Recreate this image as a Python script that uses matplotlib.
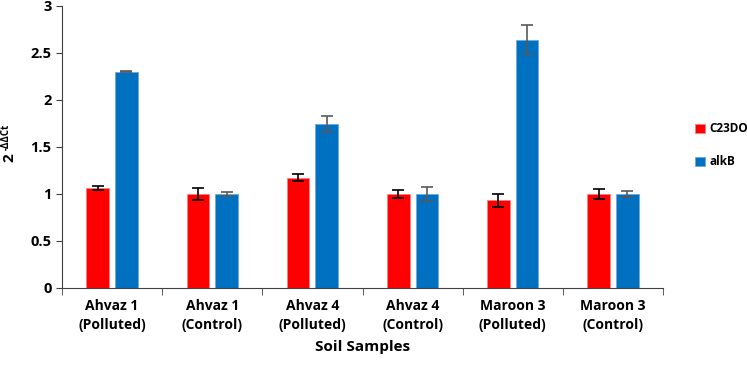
import numpy as np
import matplotlib.pyplot as plt

plt.rcParams["font.family"] = ["Open Sans", "DejaVu Sans"]
plt.rcParams["font.weight"] = "bold"

samples = ["Ahvaz 1\n(Polluted)", "Ahvaz 1\n(Control)", "Ahvaz 4\n(Polluted)",
           "Ahvaz 4\n(Control)", "Maroon 3\n(Polluted)", "Maroon 3\n(Control)"]
c23do = [1.065, 1.0, 1.175, 1.0, 0.935, 1.0]
c23do_err = [0.02, 0.06, 0.04, 0.04, 0.07, 0.05]
alkb = [2.30, 1.0, 1.745, 1.0, 2.64, 1.0]
alkb_err = [0.005, 0.02, 0.09, 0.07, 0.155, 0.03]

fig = plt.figure(figsize=(7.47, 3.68), dpi=100)
ax = fig.add_axes([0.083, 0.2174, 0.8046, 0.7663])

x = np.arange(len(samples))
w = 0.225
ax.bar(x - 0.143, c23do, w, color="#ff0000", edgecolor="#ff8080", linewidth=0.6,
       yerr=c23do_err, error_kw=dict(ecolor="black", capsize=4, elinewidth=1.2, capthick=1.2),
       label="C23DO")
ax.bar(x + 0.143, alkb, w, color="#0070c0", edgecolor="#6fa8dc", linewidth=0.6,
       yerr=alkb_err, error_kw=dict(ecolor="#595959", capsize=4, elinewidth=1.2, capthick=1.2),
       label="alkB")

ax.set_xlim(-0.5, len(samples) - 0.5)
ax.set_ylim(0, 3)
ax.set_yticks([0, 0.5, 1, 1.5, 2, 2.5, 3])
ax.set_yticklabels(["0", "0.5", "1", "1.5", "2", "2.5", "3"], fontsize=10.5, fontweight="bold")
ax.set_xticks(x)
ax.set_xticklabels(samples, fontsize=10, fontweight="bold", linespacing=1.4)
ax.tick_params(axis="x", length=0, pad=8)
ax.set_xticks(np.arange(len(samples) + 1) - 0.5, minor=True)
ax.tick_params(axis="x", which="minor", length=5, direction="out", color="#404040")
ax.tick_params(axis="y", length=4, direction="out", color="#404040")
for s in ["top", "right"]:
    ax.spines[s].set_visible(False)
for s in ["left", "bottom"]:
    ax.spines[s].set_color("#404040")

ax.set_xlabel("Soil Samples", fontsize=11, fontweight="bold", labelpad=6)
# y label: 2 with a raised -ΔΔCt
fig.text(0.012, 0.573, "2", rotation=90, fontsize=11, fontweight="bold", ha="center", va="center")
fig.text(0.009, 0.592, "-ΔΔCt", rotation=90, fontsize=7, fontweight="bold", ha="center", va="bottom")

fig.legend(loc="center left", bbox_to_anchor=(0.93, 0.605), frameon=False,
           prop=dict(size=8.5, weight="bold"), handlelength=0.85, handleheight=0.85,
           handletextpad=0.4, labelspacing=1.7, borderpad=0, borderaxespad=0)

fig.savefig("out.png", dpi=100)
